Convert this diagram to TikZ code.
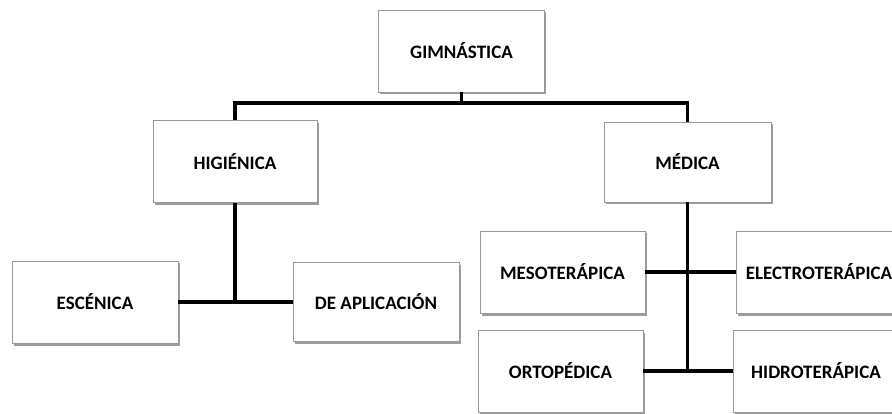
\documentclass[tikz,border=0pt]{standalone}
\usepackage{fontspec}
\setmainfont{Carlito}
\usetikzlibrary{shadows}

\tikzset{
  box/.style={draw=black!40, line width=0.8pt, fill=white, minimum width=166pt,
    minimum height=82pt, inner sep=0pt, font=\bfseries\fontsize{19}{21}\selectfont,
    drop shadow={shadow xshift=1.5pt, shadow yshift=-2.5pt, fill=black!55, opacity=0.7}},
  link/.style={line width=3.6pt, black}
}

\begin{document}
\begin{tikzpicture}[x=1pt, y=-1pt]

% page size (in px of the reference):
\useasboundingbox (0,0) rectangle (892,414);

% boxes
\node[box] (gim) at (461.5,51) {GIMNÁSTICA};
\node[box, minimum width=164pt] (hig) at (235,161.5) {HIGIÉNICA};
\node[box, minimum width=167pt, minimum height=80pt] (med) at (687.5,162) {MÉDICA};

\node[box] (esc) at (95,302) {ESCÉNICA};
\node[box, minimum height=79pt] (apl) at (376,302) {DE APLICACIÓN};

\node[box, minimum width=165pt] (meso) at (562.5,272) {MESOTERÁPICA};
\node[box] (elec) at (819,272) {ELECTROTERÁPICA};
\node[box, minimum width=165pt] (orto) at (560.5,371) {ORTOPÉDICA};
\node[box] (hidro) at (816,371) {HIDROTERÁPICA};

% connectors
\coordinate (bar) at (0,103);
\draw[link] (gim.south) -- (gim.south |- bar);
\draw[link] (hig.north) -- (hig.north |- bar) -| (med.north);

\draw[link] (hig.south) -- (hig.south |- esc.east);
\draw[link] (esc.east) -- (apl.west);

\draw[link] (med.south) -- (med.south |- orto.east);
\draw[link] (meso.east) -- (elec.west);
\draw[link] (orto.east) -- (hidro.west);

\end{tikzpicture}
\end{document}
